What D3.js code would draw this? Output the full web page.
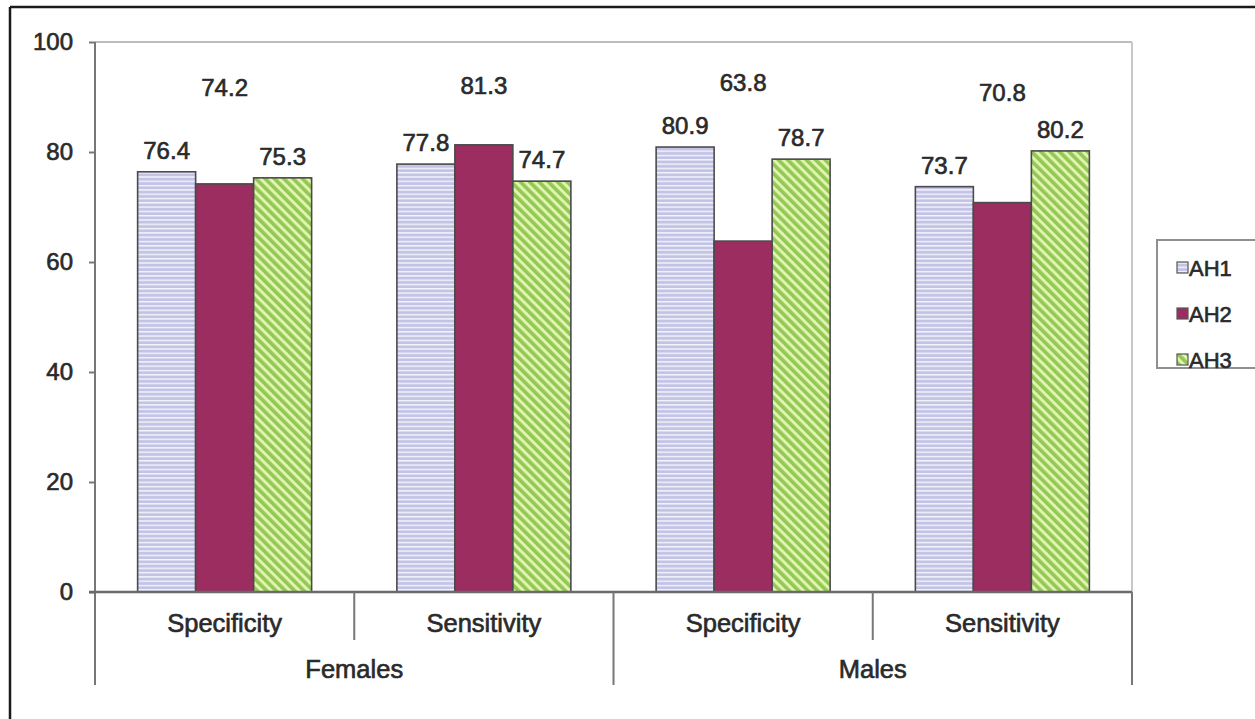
<!DOCTYPE html>
<html><head><meta charset="utf-8">
<script src="https://cdn.jsdelivr.net/npm/d3@7"></script>
<style>
html,body{margin:0;padding:0;background:#fff;}
svg{display:block;font-family:"Liberation Sans",Arial,sans-serif;}
</style></head>
<body>
<svg id="chart" width="1255" height="719"></svg>
<script>
// ---- data ----
const groups = ["Females", "Males"];
const measures = ["Specificity", "Sensitivity"];
const categories = ["Females|Specificity", "Females|Sensitivity", "Males|Specificity", "Males|Sensitivity"];
const seriesNames = ["AH1", "AH2", "AH3"];
const ah1 = [76.4, 77.8, 80.9, 73.7];
const ah2 = [74.2, 81.3, 63.8, 70.8];
const ah3 = [75.3, 74.7, 78.7, 80.2];
const yTicks = [0, 20, 40, 60, 80, 100];
// label anchor heights (in value units) for the AH2 labels, which sit above the groups
const ah2LabelAt = [90.2, 90.5, 91.1, 89.3];

const seriesValues = [ah1, ah2, ah3];

const svg = d3.select("#chart");
const W = 1255, H = 719;
const plot = {left: 95, right: 1132, top: 42, bottom: 592};
const font = 24;
const wordFont = 25.5;
const txt = "#2a2a2a", txtStroke = 0.65;

// outer frame (top and left visible)
svg.append("line").attr("x1", 10).attr("x2", W).attr("y1", 7).attr("y2", 7)
  .attr("stroke", "#1a1a1a").attr("stroke-width", 2.5);
svg.append("line").attr("x1", 10).attr("x2", 10).attr("y1", 7).attr("y2", H)
  .attr("stroke", "#1a1a1a").attr("stroke-width", 2.5);

// patterns
const defs = svg.append("defs");
const p1 = defs.append("pattern").attr("id", "pAH1").attr("patternUnits", "userSpaceOnUse")
  .attr("width", 8).attr("height", 4.3);
p1.append("rect").attr("width", 8).attr("height", 4.3).attr("fill", "#c3c3e6");
p1.append("rect").attr("y", 0).attr("width", 8).attr("height", 1.4).attr("fill", "#f4f4fb");

const p3 = defs.append("pattern").attr("id", "pAH3").attr("patternUnits", "userSpaceOnUse")
  .attr("width", 10).attr("height", 6.6).attr("patternTransform", "rotate(45)");
p3.append("rect").attr("width", 10).attr("height", 6.6).attr("fill", "#92c954");
p3.append("rect").attr("y", 0).attr("width", 10).attr("height", 3).attr("fill", "#e2f2b0");

const fills = ["url(#pAH1)", "#9b2d61", "url(#pAH3)"];
const legendFills = fills;

// scales
const x0 = d3.scaleBand().domain(categories).range([plot.left, plot.right]).paddingInner(0).paddingOuter(0);
const innerW = 174;
const x1 = d3.scaleBand().domain(seriesNames).range([0, innerW]).padding(0);
const y = d3.scaleLinear().domain([0, 100]).range([plot.bottom, plot.top]);

// plot area border (top and right, light gray)
svg.append("line").attr("x1", plot.left).attr("x2", plot.right).attr("y1", y(100)).attr("y2", y(100))
  .attr("stroke", "#bdbdbd").attr("stroke-width", 2);
svg.append("line").attr("x1", plot.right).attr("x2", plot.right).attr("y1", y(100)).attr("y2", plot.bottom)
  .attr("stroke", "#c8c8c8").attr("stroke-width", 2);

// bars
const barData = [];
categories.forEach((c, ci) => {
  seriesNames.forEach((s, si) => {
    barData.push({cat: c, ci, s, si, v: seriesValues[si][ci]});
  });
});
const off = (x0.bandwidth() - innerW) / 2;
svg.append("g").selectAll("rect").data(barData).join("rect")
  .attr("x", d => x0(d.cat) + off + x1(d.s))
  .attr("y", d => y(d.v))
  .attr("width", x1.bandwidth())
  .attr("height", d => y(0) - y(d.v))
  .attr("fill", d => fills[d.si])
  .attr("stroke", "#4a4a4a").attr("stroke-width", 1.6);

// data labels
svg.append("g").selectAll("text").data(barData).join("text")
  .attr("x", d => x0(d.cat) + off + x1(d.s) + x1.bandwidth() / 2)
  .attr("y", d => d.si === 1 ? y(ah2LabelAt[d.ci]) : y(d.v) - 13)
  .attr("text-anchor", "middle")
  .attr("font-size", font).attr("fill", txt)
  .attr("stroke", txt).attr("stroke-width", txtStroke)
  .text(d => d.v.toFixed(1));

// y axis
const yAxis = d3.axisLeft(y).tickValues(yTicks).tickSize(6).tickPadding(16).tickFormat(d3.format("d"));
const gy = svg.append("g").attr("transform", `translate(${plot.left},0)`).call(yAxis);
gy.select(".domain").remove();
gy.selectAll(".tick line").attr("stroke", "#777").attr("stroke-width", 2);
gy.selectAll(".tick text").attr("font-size", font).attr("fill", txt)
  .attr("stroke", txt).attr("stroke-width", txtStroke)
  .attr("font-family", "Liberation Sans, Arial, sans-serif");
svg.append("line").attr("x1", plot.left).attr("x2", plot.left).attr("y1", y(100)).attr("y2", 685)
  .attr("stroke", "#777").attr("stroke-width", 2);

// x axis base line
svg.append("line").attr("x1", plot.left - 6).attr("x2", plot.right).attr("y1", y(0)).attr("y2", y(0))
  .attr("stroke", "#6a6a6a").attr("stroke-width", 2.5);

// category separators
const sepX = [];
categories.forEach((c, i) => sepX.push({x: x0(c), long: i % 2 === 0}));
sepX.push({x: x0(categories[categories.length - 1]) + x0.bandwidth(), long: true});
svg.append("g").selectAll("line").data(sepX.filter(d => d.x > plot.left)).join("line")
  .attr("x1", d => d.x).attr("x2", d => d.x)
  .attr("y1", y(0)).attr("y2", d => d.long ? 685 : 640)
  .attr("stroke", "#777").attr("stroke-width", 2);

// measure labels
svg.append("g").selectAll("text").data(categories).join("text")
  .attr("x", c => x0(c) + x0.bandwidth() / 2)
  .attr("y", 632)
  .attr("text-anchor", "middle").attr("font-size", wordFont).attr("fill", txt)
  .attr("stroke", txt).attr("stroke-width", txtStroke)
  .text(c => c.split("|")[1]);

// group labels
svg.append("g").selectAll("text").data(groups).join("text")
  .attr("x", (g, i) => x0(categories[i * 2]) + x0.bandwidth())
  .attr("y", 678)
  .attr("text-anchor", "middle").attr("font-size", wordFont).attr("fill", txt)
  .attr("stroke", txt).attr("stroke-width", txtStroke)
  .text(g => g);

// legend
const lg = svg.append("g");
lg.append("rect").attr("x", 1157).attr("y", 240).attr("width", 120).attr("height", 128)
  .attr("fill", "#fff").attr("stroke", "#909090").attr("stroke-width", 2);
const legY = [268, 314, 360];
seriesNames.forEach((s, i) => {
  lg.append("rect").attr("x", 1177).attr("y", legY[i] - 6).attr("width", 11).attr("height", 11)
    .attr("fill", legendFills[i]).attr("stroke", "#555").attr("stroke-width", 1.2);
  lg.append("text").attr("x", 1189).attr("y", legY[i] + 8)
    .attr("font-size", 22).attr("fill", txt)
    .attr("stroke", txt).attr("stroke-width", txtStroke)
    .text(s);
});
</script>
</body></html>
